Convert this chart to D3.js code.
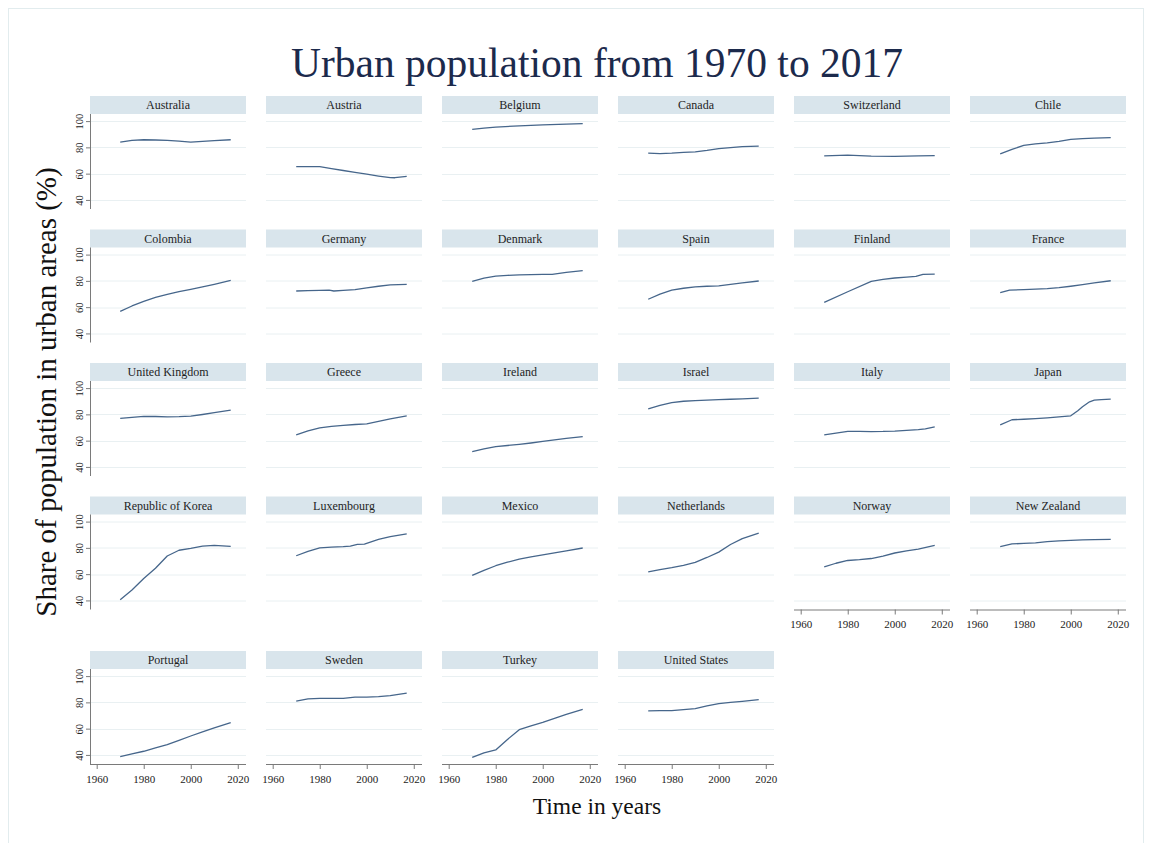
<!DOCTYPE html>
<html>
<head>
<meta charset="utf-8">
<script src="https://cdn.jsdelivr.net/npm/d3@7"></script>
<style>
  html, body { margin: 0; padding: 0; background: #ffffff; }
  svg { display: block; }
</style>
</head>
<body>
<svg id="chart" width="1152" height="843"></svg>
<script>
// Urban population share (%) by country, [year, value]
const australia   = [[1970,84.0],[1975,85.4],[1980,85.8],[1985,85.6],[1990,85.4],[1995,84.8],[2000,84.0],[2005,84.6],[2010,85.2],[2017,85.8]];
const austria     = [[1970,65.3],[1975,65.4],[1980,65.4],[1985,63.9],[1990,62.4],[1995,61.0],[2000,59.6],[2005,58.2],[2010,57.0],[2012,56.9],[2017,58.0]];
const belgium     = [[1970,93.7],[1975,94.6],[1980,95.4],[1990,96.4],[2000,97.1],[2010,97.7],[2017,98.0]];
const canada      = [[1970,75.7],[1975,75.3],[1980,75.6],[1985,76.2],[1990,76.6],[1995,77.7],[2000,79.1],[2005,79.8],[2010,80.6],[2017,81.0]];
const switzerland = [[1970,73.5],[1980,74.1],[1990,73.4],[2000,73.1],[2010,73.6],[2017,73.7]];
const chile       = [[1970,75.0],[1975,78.4],[1980,81.6],[1985,82.6],[1990,83.4],[1995,84.6],[2000,86.1],[2005,86.7],[2010,87.1],[2017,87.4]];
const colombia    = [[1970,56.8],[1975,60.9],[1980,64.4],[1985,67.4],[1990,69.8],[1995,71.8],[2000,73.6],[2005,75.4],[2010,77.4],[2017,80.4]];
const germany     = [[1970,72.3],[1975,72.6],[1980,72.8],[1984,73.0],[1986,72.3],[1990,72.8],[1995,73.4],[2000,74.7],[2005,75.9],[2010,77.0],[2017,77.3]];
const denmark     = [[1970,79.7],[1975,82.1],[1980,83.6],[1985,84.2],[1990,84.6],[1995,84.8],[2000,84.9],[2004,85.0],[2010,86.5],[2017,87.8]];
const spain       = [[1970,66.0],[1975,69.9],[1980,73.0],[1985,74.4],[1990,75.4],[1995,75.9],[2000,76.2],[2005,77.3],[2010,78.4],[2017,79.9]];
const finland     = [[1970,63.7],[1980,71.7],[1990,79.6],[1995,81.1],[2000,82.2],[2005,82.9],[2009,83.4],[2012,85.0],[2017,85.2]];
const france      = [[1970,71.0],[1974,72.9],[1980,73.3],[1985,73.7],[1990,74.1],[1995,74.9],[2000,75.9],[2005,77.1],[2010,78.4],[2017,80.1]];
const unitedKingdom = [[1970,76.9],[1975,77.7],[1980,78.5],[1985,78.4],[1990,78.1],[1995,78.3],[2000,78.7],[2005,79.9],[2010,81.3],[2017,83.2]];
const greece      = [[1970,64.4],[1975,67.4],[1980,69.8],[1985,70.9],[1990,71.6],[1995,72.3],[2000,72.8],[2005,74.6],[2010,76.6],[2017,78.9]];
const ireland     = [[1970,51.7],[1975,53.7],[1980,55.5],[1985,56.3],[1990,57.2],[1995,58.2],[2000,59.4],[2005,60.6],[2010,61.7],[2017,63.1]];
const israel      = [[1970,84.2],[1975,86.8],[1980,89.0],[1985,90.0],[1990,90.4],[1995,90.9],[2000,91.2],[2005,91.5],[2010,91.8],[2017,92.3]];
const italy       = [[1970,64.4],[1975,65.8],[1980,67.0],[1985,67.1],[1990,66.9],[1995,67.0],[2000,67.3],[2005,67.8],[2010,68.4],[2013,69.0],[2017,70.5]];
const japan       = [[1970,72.0],[1975,75.9],[1980,76.3],[1985,76.8],[1990,77.4],[1995,78.1],[2000,78.9],[2003,82.8],[2005,85.8],[2008,89.6],[2010,90.8],[2013,91.3],[2017,91.6]];
const korea       = [[1970,40.6],[1975,48.0],[1980,56.7],[1985,64.5],[1990,73.8],[1995,78.2],[2000,79.6],[2005,81.3],[2010,81.9],[2017,81.2]];
const luxembourg  = [[1970,74.0],[1975,77.3],[1980,80.0],[1985,80.6],[1990,80.9],[1993,81.4],[1996,82.7],[1999,82.8],[2005,86.4],[2010,88.5],[2017,90.7]];
const mexico      = [[1970,59.1],[1975,62.9],[1980,66.4],[1985,69.1],[1990,71.4],[1995,73.2],[2000,74.6],[2005,76.2],[2010,77.8],[2017,79.9]];
const netherlands = [[1970,61.8],[1975,63.5],[1980,64.9],[1985,66.7],[1990,68.9],[1995,72.7],[2000,76.8],[2005,82.6],[2010,87.1],[2017,91.2]];
const norway      = [[1970,65.5],[1975,68.3],[1980,70.4],[1985,71.0],[1990,71.9],[1995,73.8],[2000,76.1],[2005,77.7],[2010,79.1],[2017,81.9]];
const newZealand  = [[1970,81.0],[1975,83.0],[1980,83.4],[1985,83.8],[1990,84.7],[1995,85.3],[2000,85.7],[2005,86.1],[2010,86.3],[2017,86.4]];
const portugal    = [[1970,38.8],[1975,40.8],[1980,42.8],[1985,45.3],[1990,47.9],[1995,51.1],[2000,54.4],[2005,57.5],[2010,60.6],[2017,64.6]];
const sweden      = [[1970,81.0],[1975,82.7],[1980,83.1],[1985,83.1],[1990,83.1],[1995,84.0],[2000,84.0],[2005,84.3],[2010,85.1],[2017,87.1]];
const turkey      = [[1970,38.2],[1975,41.6],[1980,43.8],[1985,51.8],[1990,59.2],[1995,62.1],[2000,64.7],[2005,67.8],[2010,70.8],[2017,74.6]];
const unitedStates = [[1970,73.6],[1975,73.7],[1980,73.7],[1985,74.5],[1990,75.3],[1995,77.3],[2000,79.1],[2005,80.0],[2010,80.8],[2017,82.1]];

const countries = [
  "Australia","Austria","Belgium","Canada","Switzerland","Chile",
  "Colombia","Germany","Denmark","Spain","Finland","France",
  "United Kingdom","Greece","Ireland","Israel","Italy","Japan",
  "Republic of Korea","Luxembourg","Mexico","Netherlands","Norway","New Zealand",
  "Portugal","Sweden","Turkey","United States"
];
const series = [
  australia, austria, belgium, canada, switzerland, chile,
  colombia, germany, denmark, spain, finland, france,
  unitedKingdom, greece, ireland, israel, italy, japan,
  korea, luxembourg, mexico, netherlands, norway, newZealand,
  portugal, sweden, turkey, unitedStates
];

const yTicks = [40, 60, 80, 100];
const xTicks = [1960, 1980, 2000, 2020];

const titleText = "Urban population from 1970 to 2017";
const yTitleText = "Share of population in urban areas (%)";
const xTitleText = "Time in years";

// ---- layout ----
const W = 1152, H = 843;
const nCols = 6;
const panelW = 156, colStep = 176, left0 = 90;
const stripH = 18, plotH = 95;
const serif = "'Liberation Serif', 'Times New Roman', serif";

function rowTop(r) { return 96 + r * 133.5 + (r === 4 ? 21 : 0); }

const svg = d3.select("#chart");

svg.append("rect")
  .attr("x", 0).attr("y", 0).attr("width", W).attr("height", H)
  .attr("fill", "#ffffff");

// outer graph frame
svg.append("rect")
  .attr("x", 8.5).attr("y", 8.5).attr("width", 1135).attr("height", 840)
  .attr("fill", "none").attr("stroke", "#e2ecee").attr("stroke-width", 1);

const x = d3.scaleLinear().domain([1957.15, 2023.5]).range([0, panelW]);
const y = d3.scaleLinear().domain([33.1, 105.4]).range([plotH, 0]);

const line = d3.line()
  .x(d => x(d[0]))
  .y(d => y(d[1]));

const n = countries.length;

countries.forEach((name, i) => {
  const r = Math.floor(i / nCols), c = i % nCols;
  const g = svg.append("g")
    .attr("transform", `translate(${left0 + c * colStep},${rowTop(r)})`);

  // strip header
  g.append("rect")
    .attr("x", 0).attr("y", 0).attr("width", panelW).attr("height", stripH)
    .attr("fill", "#d9e5ec");
  g.append("text")
    .attr("x", panelW / 2).attr("y", stripH / 2 + 4)
    .attr("text-anchor", "middle")
    .attr("font-family", serif).attr("font-size", 12)
    .attr("fill", "#1e1e1e")
    .text(name);

  const p = g.append("g").attr("transform", `translate(0,${stripH})`);

  // gridlines
  p.append("g")
    .selectAll("line")
    .data(yTicks)
    .join("line")
    .attr("x1", 0).attr("x2", panelW)
    .attr("y1", d => Math.round(y(d)) + 0.5).attr("y2", d => Math.round(y(d)) + 0.5)
    .attr("stroke", "#e9f0f2").attr("stroke-width", 1);

  // y axis on first column
  if (c === 0) {
    const ya = p.append("g")
      .attr("class", "yaxis")
      .call(d3.axisLeft(y).tickValues(yTicks).tickSize(4).tickPadding(3));
    ya.select(".domain").attr("stroke", "#7a7a7a").attr("d", `M0.5,0V${plotH}`);
    ya.selectAll(".tick line").attr("stroke", "#7a7a7a");
    ya.selectAll(".tick text")
      .attr("font-family", serif).attr("font-size", 10.5).attr("fill", "#222")
      .attr("text-anchor", "middle")
      .attr("transform", "rotate(-90)")
      .attr("x", 0).attr("y", -7).attr("dy", "0");
  }

  // x axis on bottom panel of each column
  if (i + nCols >= n) {
    const xa = p.append("g")
      .attr("transform", `translate(0,${plotH})`)
      .call(d3.axisBottom(x).tickValues(xTicks).tickFormat(d3.format("d")).tickSize(5).tickPadding(6));
    xa.select(".domain").attr("stroke", "#7a7a7a").attr("d", `M0,0.5H${panelW}`);
    xa.selectAll(".tick line").attr("stroke", "#7a7a7a");
    xa.selectAll(".tick text")
      .attr("font-family", serif).attr("font-size", 11).attr("fill", "#222");
  }

  // series line
  p.append("path")
    .datum(series[i])
    .attr("d", line)
    .attr("fill", "none")
    .attr("stroke", "#46668b")
    .attr("stroke-width", 1.3)
    .attr("stroke-linejoin", "round");
});

// titles
svg.append("text")
  .attr("x", 597).attr("y", 77)
  .attr("text-anchor", "middle")
  .attr("font-family", serif).attr("font-size", 41.5)
  .attr("fill", "#1c2a4c")
  .text(titleText);

svg.append("text")
  .attr("transform", "translate(56,392) rotate(-90)")
  .attr("text-anchor", "middle")
  .attr("font-family", serif).attr("font-size", 29)
  .attr("fill", "#111")
  .text(yTitleText);

svg.append("text")
  .attr("x", 597).attr("y", 814)
  .attr("text-anchor", "middle")
  .attr("font-family", serif).attr("font-size", 23.5)
  .attr("fill", "#111")
  .text(xTitleText);
</script>
</body>
</html>
